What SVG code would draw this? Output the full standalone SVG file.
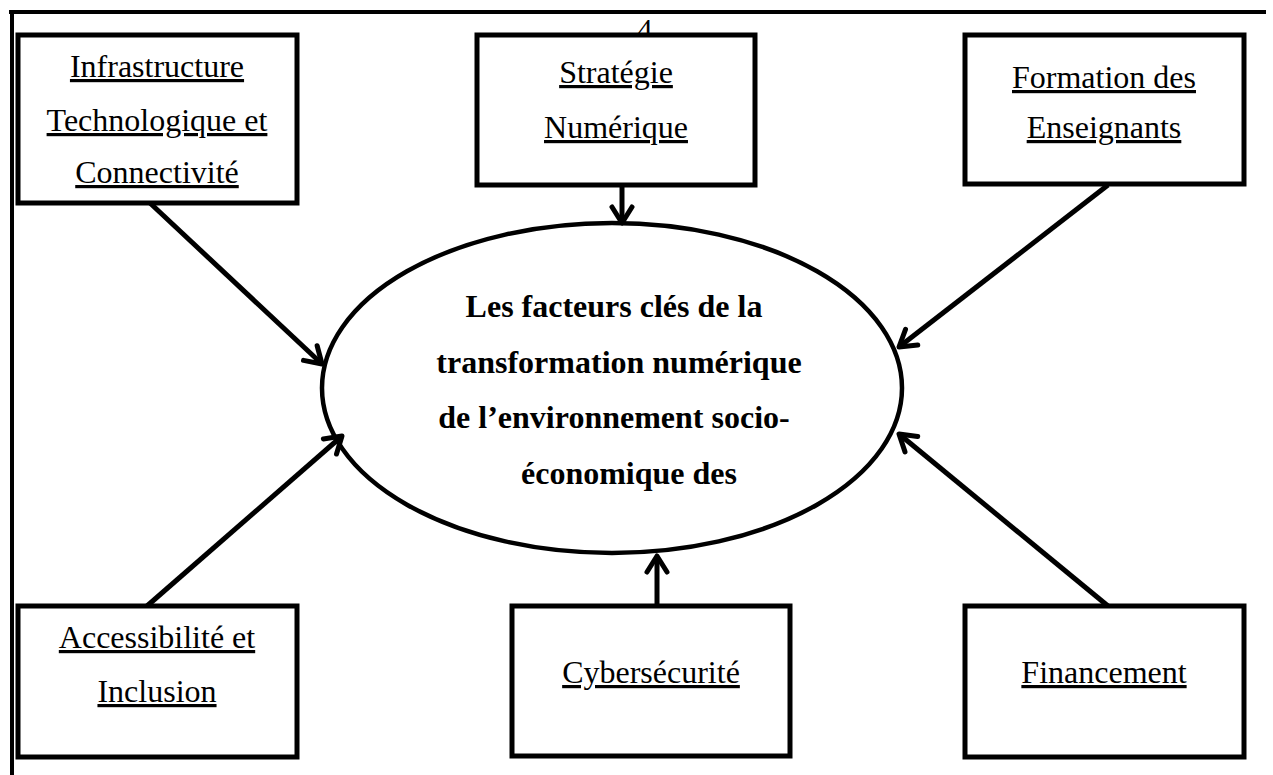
<svg xmlns="http://www.w3.org/2000/svg" width="1273" height="775" viewBox="0 0 1273 775">
<defs>
<style>
.box{fill:#fff;stroke:#000;stroke-width:5}
.lbl{font-family:"Liberation Serif","Times New Roman",serif;font-size:32px;fill:#000;text-anchor:middle;text-decoration:underline}
.ctr{font-family:"Liberation Serif","Times New Roman",serif;font-size:32px;font-weight:bold;fill:#000;text-anchor:middle}
.con{stroke:#000;stroke-width:5;fill:none;marker-end:url(#ah)}
.frame{stroke:#000;stroke-width:4;fill:none}
</style>
<marker id="ah" markerUnits="userSpaceOnUse" viewBox="-20 -20 40 40" markerWidth="40" markerHeight="40" refX="0" refY="0" orient="auto" overflow="visible">
<path d="M -16 -10 L 0 0 L -16 10" fill="none" stroke="#000" stroke-width="5" stroke-linecap="round" stroke-linejoin="round"/>
</marker>
</defs>
<rect width="1273" height="775" fill="#fff"/>
<g id="frame">
<line class="frame" x1="9" y1="12" x2="1266" y2="12"/>
<line class="frame" x1="12" y1="10" x2="12" y2="775"/>
</g>
<text x="645" y="39" font-family="Liberation Serif, serif" font-size="30" text-anchor="middle">4</text>
<g id="connectors">
<line class="con" x1="150" y1="203" x2="322" y2="364"/>
<line class="con" x1="622" y1="185" x2="622" y2="223"/>
<line class="con" x1="1108" y1="185" x2="899" y2="347"/>
<line class="con" x1="147" y1="606" x2="342" y2="436"/>
<line class="con" x1="657" y1="606" x2="657" y2="556"/>
<line class="con" x1="1108" y1="606" x2="899" y2="434"/>
</g>
<g id="center">
<ellipse cx="612" cy="388" rx="290" ry="165" fill="none" stroke="#000" stroke-width="4.5"/>
<text class="ctr" x="614" y="317">Les facteurs clés de la</text>
<text class="ctr" x="619" y="373">transformation numérique</text>
<text class="ctr" x="614" y="428">de l’environnement socio-</text>
<text class="ctr" x="629" y="484">économique des</text>
</g>
<g id="infra">
<rect class="box" x="18" y="35" width="279" height="168"/>
<text class="lbl" x="157" y="77">Infrastructure</text>
<text class="lbl" x="157" y="131">Technologique et</text>
<text class="lbl" x="157" y="183">Connectivité</text>
</g>
<g id="strategie">
<rect class="box" x="477" y="35" width="278" height="150"/>
<text class="lbl" x="616" y="83">Stratégie</text>
<text class="lbl" x="616" y="138">Numérique</text>
</g>
<g id="formation">
<rect class="box" x="965" y="35" width="279" height="149"/>
<text class="lbl" x="1104" y="88">Formation des</text>
<text class="lbl" x="1104" y="138">Enseignants</text>
</g>
<g id="accessibilite">
<rect class="box" x="18" y="606" width="279" height="151"/>
<text class="lbl" x="157" y="648">Accessibilité et</text>
<text class="lbl" x="157" y="702">Inclusion</text>
</g>
<g id="cyber">
<rect class="box" x="512" y="606" width="278" height="150"/>
<text class="lbl" x="651" y="683">Cybersécurité</text>
</g>
<g id="financement">
<rect class="box" x="965" y="606" width="279" height="151"/>
<text class="lbl" x="1104" y="683">Financement</text>
</g>
</svg>
